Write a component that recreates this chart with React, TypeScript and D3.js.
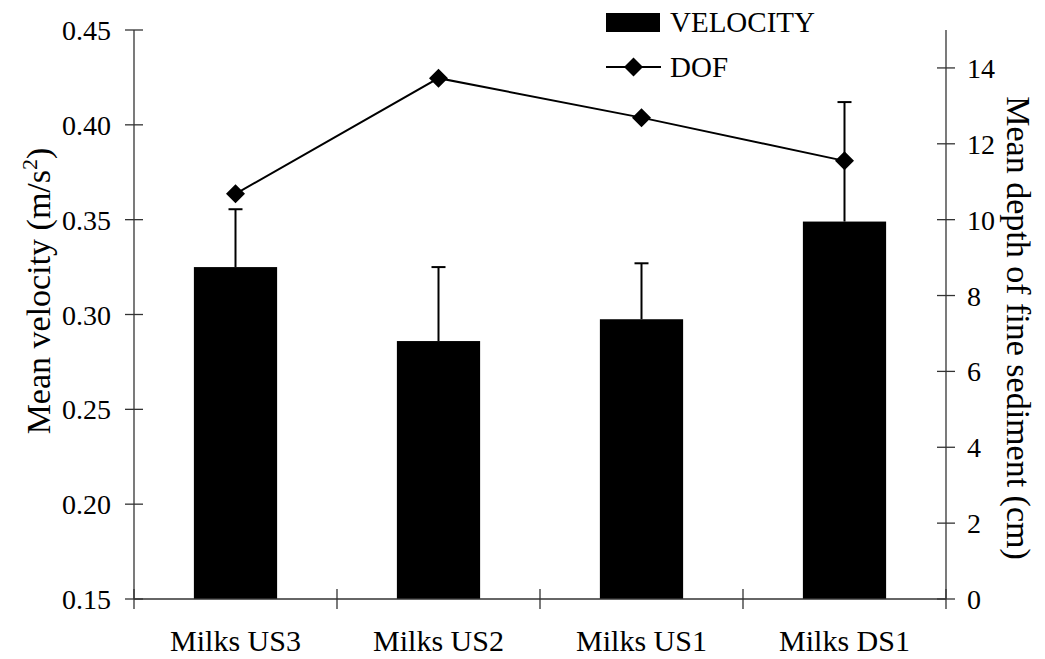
import React from "react";
import * as d3 from "d3";

const categories = ["Milks US3", "Milks US2", "Milks US1", "Milks DS1"];
const velocity = [0.325, 0.286, 0.2975, 0.349];
const velocityErr = [0.0305, 0.039, 0.0295, 0.063];
const dof = [10.68, 13.73, 12.69, 11.55];
const leftTicks = [0.15, 0.2, 0.25, 0.3, 0.35, 0.4, 0.45];
const rightTicks = [0, 2, 4, 6, 8, 10, 12, 14];

const W = 1045;
const H = 659;
const FF = "Liberation Serif";

export default function App() {
  const x0 = 134;
  const x1 = 946;
  const yTop = 30;
  const yBot = 599;

  const x = d3.scaleBand<string>().domain(categories).range([x0, x1]).padding(0);
  const yL = d3.scaleLinear().domain([0.15, 0.45]).range([yBot, yTop]);
  const yR = d3.scaleLinear().domain([0, 15]).range([yBot, yTop]);
  const bw = x.bandwidth() * 0.41;
  const cx = (c: string) => (x(c) as number) + x.bandwidth() / 2;

  const line = d3
    .line<number>()
    .x((_, i) => cx(categories[i]))
    .y((d) => yR(d));

  const diamond = (px: number, py: number, r: number) =>
    `M${px},${py - r}L${px + r},${py}L${px},${py + r}L${px - r},${py}Z`;

  const axisColor = "#333";
  const boundaries = [...categories.map((c) => x(c) as number), x1];

  return (
    <svg
      width={W}
      height={H}
      fontFamily={FF}
      style={{ position: "absolute", left: 0, top: 0, background: "#fff", fontFamily: FF }}
    >
      <rect width={W} height={H} fill="#fff" />
      {categories.map((c, i) => (
        <rect
          key={c}
          x={cx(c) - bw / 2}
          y={yL(velocity[i])}
          width={bw}
          height={yBot - yL(velocity[i])}
          fill="#000"
        />
      ))}
      {categories.map((c, i) => {
        const yt = yL(velocity[i] + velocityErr[i]);
        return (
          <g key={"e" + c} stroke="#000" strokeWidth={2}>
            <line x1={cx(c)} x2={cx(c)} y1={yL(velocity[i])} y2={yt} />
            <line x1={cx(c) - 7} x2={cx(c) + 7} y1={yt} y2={yt} />
          </g>
        );
      })}
      <path d={line(dof) || ""} fill="none" stroke="#000" strokeWidth={2} />
      {dof.map((d, i) => (
        <path key={"m" + i} d={diamond(cx(categories[i]), yR(d), 9.5)} fill="#000" />
      ))}

      <line x1={x0} x2={x0} y1={yTop} y2={yBot} stroke={axisColor} strokeWidth={1.3} />
      {leftTicks.map((t) => (
        <line key={"lt" + t} x1={x0 - 9} x2={x0 + 9} y1={yL(t)} y2={yL(t)} stroke={axisColor} strokeWidth={1.3} />
      ))}
      {leftTicks.map((t) => (
        <text key={"ll" + t} x={111} y={yL(t) + 10} textAnchor="end" fontSize={28} fontFamily={FF} style={{ fontFamily: FF }}>
          {t.toFixed(2)}
        </text>
      ))}
      <line x1={x1} x2={x1} y1={yTop} y2={yBot} stroke={axisColor} strokeWidth={1.3} />
      {rightTicks.map((t) => (
        <line key={"rt" + t} x1={x1 - 9} x2={x1 + 9} y1={yR(t)} y2={yR(t)} stroke={axisColor} strokeWidth={1.3} />
      ))}
      {rightTicks.map((t) => (
        <text key={"rl" + t} x={967} y={yR(t) + 10} textAnchor="start" fontSize={28} fontFamily={FF} style={{ fontFamily: FF }}>
          {t}
        </text>
      ))}
      <line x1={x0} x2={x1} y1={yBot} y2={yBot} stroke={axisColor} strokeWidth={1.3} />
      {boundaries.map((b, i) => (
        <line key={"b" + i} x1={b} x2={b} y1={yBot - 10} y2={yBot + 10} stroke={axisColor} strokeWidth={1.3} />
      ))}
      {categories.map((c) => (
        <text key={"c" + c} x={cx(c)} y={651} textAnchor="middle" fontSize={30} fontFamily={FF} style={{ fontFamily: FF }}>
          {c}
        </text>
      ))}

      <text transform="translate(50,291) rotate(-90)" textAnchor="middle" fontSize={34} style={{ fontFamily: FF }}>
        Mean velocity (m/s
        <tspan dy={-13} fontSize={22}>2</tspan>
        <tspan dy={13}>)</tspan>
      </text>
      <text transform="translate(1007,328) rotate(90)" textAnchor="middle" fontSize={34} style={{ fontFamily: FF }}>
        Mean depth of fine sediment (cm)
      </text>

      <rect x={606} y={13} width={54} height={19} fill="#000" />
      <text x={670} y={32} fontSize={29} style={{ fontFamily: FF }}>VELOCITY</text>
      <line x1={606} x2={661} y1={67} y2={67} stroke="#000" strokeWidth={2} />
      <path d={diamond(633.5, 67, 9.5)} fill="#000" />
      <text x={670} y={77} fontSize={29} style={{ fontFamily: FF }}>DOF</text>
    </svg>
  );
}
